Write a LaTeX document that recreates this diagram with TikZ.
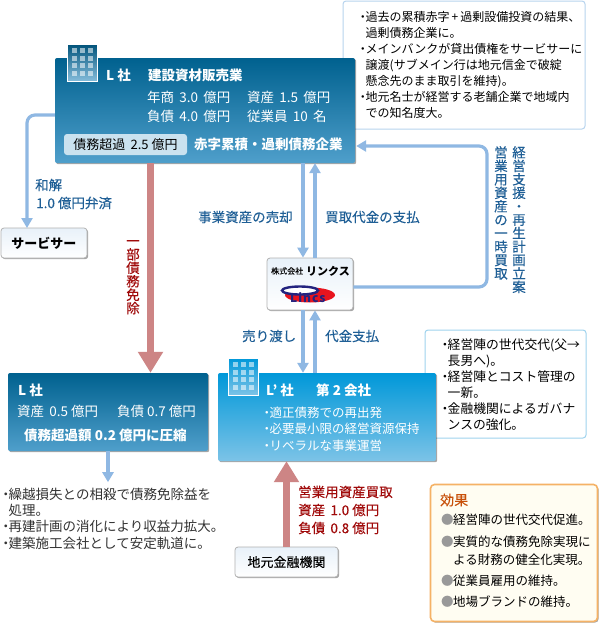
\documentclass[tikz,border=0pt]{standalone}
\usepackage{fontspec}
\setmainfont{Noto Sans CJK JP}
\newfontfamily\med[FakeBold=0.12]{Noto Sans CJK JP}
\usetikzlibrary{shadows,arrows.meta,calc}
\definecolor{arrowblue}{HTML}{8FB8E3}
\definecolor{arrowred}{HTML}{CD8585}
\definecolor{labelblue}{HTML}{1F5F96}
\definecolor{labelred}{HTML}{A00A0A}
\definecolor{darktop}{HTML}{00618F}
\definecolor{darkbot}{HTML}{4F9FCB}
\definecolor{lighttop}{HTML}{0098D9}
\definecolor{lightbot}{HTML}{7CC3E7}
\definecolor{infoa}{HTML}{B8D4EE}
\definecolor{infob}{HTML}{9FD3EE}
\definecolor{effborder}{HTML}{F5B266}
\definecolor{efffill}{HTML}{FFFDF2}
\definecolor{efftitle}{HTML}{C8500A}
\definecolor{whitetop}{HTML}{E8F1F9}
\definecolor{logoblue}{HTML}{23237F}
\definecolor{logored}{HTML}{E8141E}
\newcommand{\bu}{\makebox[5.5pt][c]{・}}
\newcommand{\ind}{\hspace*{5.5pt}}
\tikzset{
  sh/.style={drop shadow={shadow xshift=1.2pt,shadow yshift=-1.2pt,opacity=.35,fill=black}},
  darkbox/.style={sh,rounded corners=2pt,top color=darktop,bottom color=darkbot,draw=none,inner sep=0pt},
  lightbox/.style={sh,rounded corners=2pt,top color=lighttop,bottom color=lightbot,draw=none,inner sep=0pt},
  whitebox/.style={sh,rounded corners=3pt,top color=whitetop,bottom color=white,draw=black!30,line width=.8pt,inner sep=0pt,text=black},
  infobox/.style={rounded corners=3pt,fill=white,line width=1pt,inner sep=0pt},
  txt/.style={anchor=west,inner sep=0pt,font=\fontsize{12}{16}\selectfont,align=left},
  wtxt/.style={txt,text=white,font=\fontsize{13.5}{16}\selectfont},
  wbold/.style={txt,text=white,font=\fontsize{13.5}{16}\selectfont\bfseries},
  lab/.style={txt,text=labelblue,font=\fontsize{13.5}{16}\selectfont\med},
  rlab/.style={txt,text=labelred,font=\fontsize{13.5}{18}\selectfont\med},
  vlab/.style={anchor=north,inner sep=0pt,align=center,font=\fontsize{13.5}{13.45}\selectfont\med},
  blueline/.style={draw=arrowblue,line width=3.2pt,rounded corners=8pt},
  bluearrow/.style={blueline,-{Triangle[width=11pt,length=10pt]}},
  redarrow/.style={draw=arrowred,line width=7.5pt,-{Triangle[width=24pt,length=21pt]}},
}
\newcommand{\bldg}[4]{% x y top bottom
  \shade[top color=#3,bottom color=#4] (#1,#2) rectangle ++(30,37);
  \draw[white,line width=.7pt] (#1,#2) rectangle ++(30,37);
  \foreach \i in {0,1,2}\foreach \j in {0,1,2,3}
    \fill[white,opacity=.55] ($(#1,#2)+(4.5+\i*8,4+\j*7.6)$) rectangle ++(5.5,5.2);
}
\begin{document}
\begin{tikzpicture}[x=1pt,y=-1pt]
\useasboundingbox (0,0) rectangle (600,625);
\fill[white] (0,0) rectangle (600,625);

% info boxes (behind the companies)
\node[infobox,draw=infoa,minimum width=242pt,minimum height=128pt] (info1) at (464,65) {};
\node[infobox,draw=infob,minimum width=161pt,minimum height=108pt] (info2) at (505.5,384) {};

\coordinate (settleStart) at (56,115);
\coordinate (servTop) at (27,228);

% companies
\node[darkbox,minimum width=300pt,minimum height=105pt] (L) at (205,110.5) {};
\node[darkbox,minimum width=200pt,minimum height=78pt] (L2) at (108,412) {};
\node[lightbox,minimum width=218pt,minimum height=88pt] (Lp) at (327,417) {};
\node[whitebox,minimum width=86pt,minimum height=30pt,font=\fontsize{13}{16}\selectfont\bfseries] (serv) at (44,243) {サービサー};
\node[whitebox,minimum width=86pt,minimum height=52pt] (rinks) at (310,284) {};
\node[whitebox,minimum width=103pt,minimum height=30pt,font=\fontsize{13}{16}\selectfont\med] (bank) at (286.5,562) {地元金融機関};
\node[sh,rounded corners=4pt,draw=effborder,fill=efffill,line width=1.6pt,minimum width=167pt,minimum height=137pt,inner sep=0pt] (effect) at (514,553) {};

% connectors
\draw[bluearrow] (L.west |- settleStart) -| (servTop);
\draw[bluearrow,rounded corners=0pt] ([xshift=98pt]L.south) -- ([xshift=-7pt]rinks.north);
\draw[bluearrow,rounded corners=0pt] ([xshift=5pt]rinks.north) -- ([xshift=110pt]L.south);
\draw[bluearrow,rounded corners=0pt] ([xshift=-7pt]rinks.south) -- ([xshift=-24pt]Lp.north);
\draw[bluearrow,rounded corners=0pt] ([xshift=-12pt]Lp.north) -- ([xshift=5pt]rinks.south);
\coordinate (loopA) at (487,287);
\coordinate (loopB) at (487,146);
\draw[bluearrow] (rinks.east |- loopA) -- (loopA) -- (loopB) -- ([xshift=1pt]L.east |- loopB);
\draw[bluearrow,rounded corners=0pt] (L2.south) -- ++(0,31) coordinate (L2end);
\draw[redarrow] ([xshift=-54.5pt]L.south) -- ([xshift=42.5pt]L2.north);
\draw[redarrow] (bank.north) -- (Lp.south -| bank.north);

% L company
\bldg{67}{44}{darktop!85!black}{darkbot!70!white}
\node[wbold] (t1) at (106,75) {L 社};
\node[wbold] (t2) at (148,75) {建設資材販売業};
\node[wtxt] (t3) at (147,97) {年商 \,3.0 \,億円};
\node[wtxt] (t4) at (247,97) {資産 \,1.5 \,億円};
\node[wtxt] (t5) at (147,116) {負債 \,4.0 \,億円};
\node[wtxt] (t6) at (247,116) {従業員 \,10 \,名};
\node[rounded corners=3pt,fill=white!70!darkbot,minimum width=123pt,minimum height=21pt,inner sep=0pt,font=\fontsize{13}{16}\selectfont] (pill) at (125.5,144.5) {債務超過 \,2.5 億円};
\node[wbold] (t7) at (194,144) {赤字累積・過剰債務企業};

% info 1 text
\node[txt] (i1) at (360,65) {\bu 過去の累積赤字\,+\,過剰設備投資の結果、\\
\ind 過剰債務企業に。\\
\bu メインバンクが貸出債権をサービサーに\\
\ind 譲渡(サブメイン行は地元信金で破綻\\
\ind 懸念先のまま取引を維持)。\\
\bu 地元名士が経営する老舗企業で地域内\\
\ind での知名度大。};

% arrow labels
\node[lab] (a1) at (35,185) {和解};
\node[lab] (a2) at (36,203) {1.0 億円弁済};
\node[lab] (a3) at (198,217) {事業資産の売却};
\node[lab] (a4) at (325,217) {買取代金の支払};
\node[lab] (a5) at (242,336) {売り渡し};
\node[lab] (a6) at (325,336) {代金支払};
\node[vlab,text=labelblue] (v1) at (519,146) {経\\営\\支\\援\\・\\再\\生\\計\\画\\立\\案};
\node[vlab,text=labelblue] (v2) at (501,146) {営\\業\\用\\資\\産\\の\\一\\時\\買\\取};
\node[vlab,text=labelred] (v3) at (133,240) {一\\部\\債\\務\\免\\除};

% rinks
\node[inner sep=0pt,font=\fontsize{8}{9}\selectfont\med,anchor=west] (r1) at (271,271) {株式会社};
\node[inner sep=0pt,font=\fontsize{11}{12}\selectfont\bfseries,anchor=west] (r2) at (306,271) {リンクス};
\fill[logored] (310,295) ellipse (25pt and 7.5pt);
\draw[logoblue,line width=2.4pt,fill=white] (300,290.5) ellipse (18pt and 4pt);
\node[inner sep=0pt,text=logoblue,font=\fontsize{12}{12}\selectfont\bfseries\addfontfeature{LetterSpace=8},anchor=west] (r3) at (290,297.5) {Lincs};

% L' company
\bldg{228}{358}{lighttop}{lightbot}
\node[wbold] (p1) at (266,390) {L' 社};
\node[wbold] (p2) at (316,390) {第 2 会社};
\node[wtxt,font=\fontsize{12.5}{16.5}\selectfont] (p3) at (264,429) {\bu 適正債務での再出発\\
\bu 必要最小限の経営資源保持\\
\bu リベラルな事業運営};

% info 2
\node[txt,font=\fontsize{12.8}{15.9}\selectfont] (i2) at (442,384.5) {\bu 経営陣の世代交代(父→\\
\ind 長男へ)。\\
\bu 経営陣とコスト管理の\\
\ind 一新。\\
\bu 金融機関によるガバナ\\
\ind ンスの強化。};

% L2
\node[wbold] (q1) at (18,390) {L 社};
\node[wtxt] (q2) at (17,411) {資産 \,0.5 億円};
\node[wtxt] (q3) at (117,411) {負債 0.7 億円};
\node[wbold] (q4) at (24,435) {債務超過額 0.2 億円に圧縮};
\node[txt,text=black!80,font=\fontsize{13.5}{16.3}\selectfont] (q5) at (3,518.5) {\bu 繰越損失との相殺で債務免除益を\\
\ind 処理。\\
\bu 再建計画の消化により収益力拡大。\\
\bu 建築施工会社として安定軌道に。};

% red labels
\node[rlab] (b1) at (298,510) {営業用資産買取\\資産 \,1.0 億円\\負債 \,0.8 億円};

% effect
\node[txt,text=efftitle,font=\fontsize{14}{16}\selectfont\med] (e0) at (440,500) {効果};
\newcommand{\gb}{\makebox[12pt][l]{\textcolor{black!40}{●}}}
\node[txt,font=\fontsize{12.5}{16}\selectfont] (e1) at (441,520) {\gb 経営陣の世代交代促進。};
\node[txt,font=\fontsize{12.5}{18}\selectfont] (e2) at (441,551) {\gb 実質的な債務免除実現に\\\hspace*{12pt}よる財務の健全化実現。};
\node[txt,font=\fontsize{12.5}{16}\selectfont] (e3) at (441,581) {\gb 従業員雇用の維持。};
\node[txt,font=\fontsize{12.5}{16}\selectfont] (e4) at (441,602) {\gb 地場ブランドの維持。};
\end{tikzpicture}
\end{document}
